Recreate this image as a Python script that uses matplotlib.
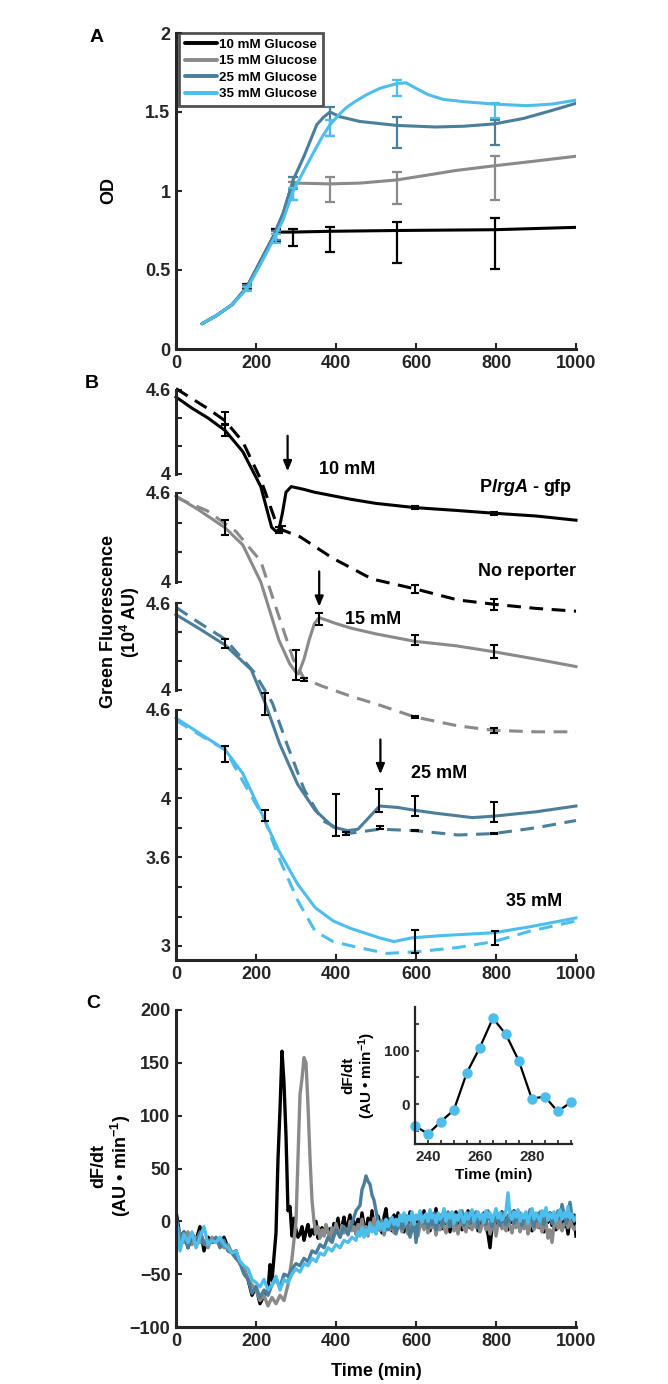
import matplotlib
matplotlib.use('Agg')
import matplotlib.pyplot as plt
import numpy as np
from matplotlib.ticker import FixedLocator

plt.rcParams['font.family'] = ['Liberation Sans', 'DejaVu Sans']
plt.rcParams['font.weight'] = 'bold'
plt.rcParams['mathtext.fontset'] = 'custom'
plt.rcParams['mathtext.rm'] = 'Liberation Sans:bold'
plt.rcParams['mathtext.it'] = 'Liberation Sans:italic:bold'
plt.rcParams['mathtext.bf'] = 'Liberation Sans:bold'

# ---------------- colours ----------------
C10, C15, C25, C35 = '#000000', '#8a8a8a', '#4a7e9b', '#4dbdec'
SPINE = '#262626'

# ---------------- Panel A data (OD) ----------------
labels_A = ['10 mM Glucose', '15 mM Glucose', '25 mM Glucose', '35 mM Glucose']
t_A10 = [65, 100, 140, 177, 210, 243, 255, 293, 385, 552, 797, 1000]
od_A10 = [0.16, 0.21, 0.28, 0.39, 0.55, 0.71, 0.74, 0.74, 0.745, 0.75, 0.755, 0.77]
t_A15 = [65, 100, 140, 177, 210, 243, 268, 285, 300, 385, 460, 552, 627, 700, 797, 900, 1000]
od_A15 = [0.16, 0.21, 0.28, 0.39, 0.55, 0.71, 0.86, 1.0, 1.05, 1.045, 1.05, 1.07, 1.10, 1.13, 1.16, 1.19, 1.22]
t_A25 = [65, 100, 140, 177, 210, 243, 268, 293, 320, 352, 370, 385, 410, 460, 552, 650, 720, 797, 870, 940, 1000]
od_A25 = [0.16, 0.21, 0.28, 0.39, 0.55, 0.71, 0.86, 1.07, 1.22, 1.42, 1.47, 1.50, 1.47, 1.44, 1.415, 1.405, 1.41, 1.425, 1.46, 1.51, 1.555]
t_A35 = [65, 100, 140, 177, 210, 243, 268, 293, 320, 343, 365, 385, 410, 427, 450, 477, 510, 552, 575, 600, 630, 668, 720, 797, 877, 940, 1000]
od_A35 = [0.16, 0.21, 0.28, 0.38, 0.53, 0.69, 0.82, 1.0, 1.13, 1.24, 1.34, 1.42, 1.49, 1.53, 1.57, 1.61, 1.65, 1.68, 1.685, 1.65, 1.61, 1.58, 1.565, 1.55, 1.54, 1.55, 1.575]

terr_A = [177, 250, 293, 385, 552, 797]
mA10 = [0.395, 0.72, 0.707, 0.696, 0.676, 0.668]
eA10 = [0.015, 0.037, 0.053, 0.079, 0.13, 0.16]
mA15 = [0.39, 0.72, 1.0, 1.008, 1.02, 1.08]
eA15 = [0.015, 0.03, 0.06, 0.08, 0.10, 0.14]
mA25 = [0.39, 0.72, 1.05, 1.44, 1.37, 1.37]
eA25 = [0.015, 0.03, 0.04, 0.09, 0.10, 0.08]
mA35 = [0.38, 0.70, 0.98, 1.40, 1.65, 1.51]
eA35 = [0.015, 0.03, 0.04, 0.05, 0.05, 0.05]

# ---------------- Panel B data (green fluorescence, 10^4 AU) ----------------
t_b10 = [0, 40, 80, 123, 167, 212, 239, 250, 257, 266, 275, 288, 320, 346, 400, 436, 500, 597, 700, 794, 900, 1000]
f_b10 = [4.55, 4.47, 4.40, 4.31, 4.16, 3.91, 3.62, 3.59, 3.60, 3.72, 3.87, 3.91, 3.89, 3.87, 3.84, 3.82, 3.79, 3.76, 3.74, 3.72, 3.70, 3.67]
t_b10n = [0, 78, 123, 167, 212, 248, 266, 311, 391, 490, 597, 705, 794, 900, 1000]
f_b10n = [4.61, 4.47, 4.38, 4.23, 3.96, 3.67, 3.60, 3.55, 3.40, 3.25, 3.18, 3.10, 3.07, 3.04, 3.02]
te_b10 = [123, 257, 597, 794]
me_b10 = [4.31, 3.60, 3.76, 3.72]
ee_b10 = [0.04, 0.02, 0.01, 0.01]
te_b10n = [123, 266, 597, 794]
me_b10n = [4.40, 3.61, 3.18, 3.07]
ee_b10n = [0.04, 0.02, 0.03, 0.04]

t_b15 = [0, 60, 123, 167, 212, 257, 284, 300, 306, 320, 333, 346, 358, 400, 436, 500, 597, 700, 794, 900, 1000]
f_b15 = [4.58, 4.48, 4.365, 4.25, 4.0, 3.61, 3.45, 3.39, 3.38, 3.48, 3.61, 3.72, 3.76, 3.72, 3.69, 3.65, 3.60, 3.57, 3.53, 3.48, 3.43]
t_b15n = [0, 78, 150, 212, 257, 293, 320, 363, 437, 509, 597, 705, 794, 900, 1000]
f_b15n = [4.57, 4.48, 4.34, 4.14, 3.77, 3.48, 3.35, 3.30, 3.23, 3.17, 3.09, 3.03, 3.00, 2.99, 2.99]
te_b15 = [123, 300, 358, 597, 794]
me_b15 = [4.37, 3.44, 3.75, 3.61, 3.53]
ee_b15 = [0.05, 0.10, 0.04, 0.035, 0.045]
te_b15n = [320, 597, 794]
me_b15n = [3.34, 3.09, 3.00]
ee_b15n = [0.01, 0.01, 0.015]

t_b25 = [0, 60, 123, 188, 223, 259, 304, 348, 393, 429, 455, 482, 509, 554, 598, 650, 741, 795, 900, 1000]
f_b25 = [4.52, 4.42, 4.31, 4.14, 3.91, 3.63, 3.35, 3.17, 3.055, 3.03, 3.04, 3.12, 3.20, 3.19, 3.17, 3.15, 3.12, 3.13, 3.16, 3.20]
t_b25n = [0, 60, 123, 196, 241, 277, 321, 366, 429, 509, 598, 705, 795, 900, 1000]
f_b25n = [4.57, 4.46, 4.35, 4.12, 3.91, 3.63, 3.31, 3.10, 3.01, 3.04, 3.03, 3.00, 3.01, 3.05, 3.10]
te_b25 = [123, 222, 400, 508, 598, 795]
me_b25 = [4.32, 3.905, 3.135, 3.24, 3.20, 3.16]
ee_b25 = [0.03, 0.075, 0.145, 0.08, 0.07, 0.07]
te_b25n = [425, 511, 598, 795]
me_b25n = [3.01, 3.05, 3.03, 3.01]
ee_b25n = [0.01, 0.01, 0.005, 0.005]

t_b35 = [0, 60, 123, 167, 219, 257, 304, 348, 393, 436, 509, 545, 589, 661, 795, 884, 1000]
f_b35 = [4.545, 4.44, 4.33, 4.17, 3.87, 3.645, 3.42, 3.26, 3.17, 3.12, 3.055, 3.03, 3.055, 3.07, 3.09, 3.13, 3.19]
t_b35n = [0, 60, 123, 221, 257, 304, 348, 393, 455, 527, 598, 705, 795, 884, 1000]
f_b35n = [4.53, 4.43, 4.33, 3.86, 3.60, 3.31, 3.10, 3.03, 2.99, 2.95, 2.96, 2.99, 3.03, 3.10, 3.17]
te_b35 = [123, 222, 598, 797]
me_b35 = [4.30, 3.885, 3.03, 3.055]
ee_b35 = [0.055, 0.035, 0.08, 0.045]

# ---------------- Panel C data (dF/dt, AU/min) ----------------
# 10 mM: 0-230 every 10 min, 235-1000 every 5 min
t_c10 = list(range(0, 231, 10)) + list(range(235, 1001, 5))
v_c10 = [10, -15, -10, -25, -12, -18, -5, -28, -15, -20, -18, -22, -15, -25, -30, -28, -40, -45, -55, -70, -62, -78, -70, -65,
         -41, -56, -33, -11, 59, 106, 161, 131, 81, 10, 14, -14, 3,
         -8, -15, -12, -5, -18, -10, -3, -14, -8, -12, 0, -16, -10, -6, -13, -4, -11, -7, -15, -2,
         -9, 3, -12, -5, 4, -10, -2, 6, -8, 0, -12, 2, -6, 8, -4, -10, 3, -7, 10, -3,
         -8, 5, -2, -11, 4, 12, -5, 2, -9, 6, -3, 8, -6, 0, -10, 5, -4, 9, -2, -8,
         4, -6, 7, -3, 10, -5, 2, -9, 6, -1, 12, -4, 3, -7, 8, -2, 5, -10, 4, -3,
         9, -4, 2, -8, 6, -1, 10, -6, 3, -3, 7, -9, 4, -2, 8, -5, -12, -25, -6, 3,
         -4, 7, -2, 9, -6, 3, -8, 5, -1, 10, -4, 2, -7, 6, -3, 8, -5, 1, -9, 4,
         -2, 7, -6, 3, -10, 5, -1, 8, -4, 2, -8, 6, -3, 9, -5, 1, -12, 4, -2, 6,
         -14]

# 15 mM: 0-290 every 10 min, 300-1000 every 5 min
t_c15 = list(range(0, 291, 10)) + list(range(300, 1001, 5))
v_c15 = [0, -12, -20, -10, -22, -15, -20, -18, -25, -15, -20, -18, -25, -22, -30, -35, -38, -45, -55, -60, -65, -75, -70, -80,
         -72, -78, -70, -75, -60, -35,
         0, 60, 120, 135, 155, 150, 110, 60, 20, 0,
         -12, -5, -16, -8, -14, -3, -10, -18, -6, -12, -2, -9, -15, -4, -11, -7, -13, 0, -9, -5,
         -12, -3, -8, 2, -10, -5, -14, -1, -7, 3, -11, -4, -9, 1, -13, -6, 0, -8, -3, -11,
         -2, -7, 4, -10, -4, 1, -12, -6, 2, -9, -3, -14, -5, 0, -8, 3, -11, -2, -6, 1,
         -13, -4, -8, 2, -6, -11, 0, -5, 4, -9, -2, -12, -3, 1, -7, -10, 0, -4, -8, 2,
         -6, -1, -10, -4, 3, -8, -2, -12, -5, 0, -14, -3, 1, -7, -2, -9, 3, -5, -11, 0,
         -6, 2, -10, -3, -7, 1, -12, -4, 0, -8, -2, -6, 3, -10, -5, -1, -16, -8, -20, -4,
         -1, -7, 2, -9, -3, 0, -6, 1, -4, -8,
         -5]

# 25 mM: 0-450 every 10 min, 460-1000 every 5 min
t_c25 = list(range(0, 451, 10)) + list(range(460, 1001, 5))
v_c25 = [5, -20, -10, -25, -15, -20, -10, -22, -18, -20, -15, -25, -18, -28, -30, -35, -40, -50, -55, -68, -62, -72, -65, -70,
         -60, -55, -62, -50, -52, -45, -40, -42, -35, -38, -28, -30, -22, -25, -15, -20, -8, -15, -5, -12, -2, 10,
         15, 30, 35, 43, 38, 35, 25, 20, 10, 0, -5, -2,
         -10, -3, -8, 2, -6, 0, -12, -4, 3, -7, -1, 5, -5, -15, -8, 2, -20, -3, 0, 6,
         -2, 5, -6, 3, -3, 8, -8, 1, 6, -4, 4, -1, 9, -5, 2, 7, -3, 5, 0, 10,
         -4, 3, 8, -2, 5, 0, 9, -6, 4, 1, 7, -3, 10, 2, -5, 6, 0, 4, -4, 8,
         2, -3, 6, 0, 9, -2, 5, 1, 8, -4, 3, 7, -1, 11, 2, -5, 6, 0, 9, 3,
         -3, 5, 1, 8, -2, 6, 0, 10, 3, 16, 7, -2, 5, 18, 4, 0,
         5]

# 35 mM: 0-440 every 10 min, 450-1000 every 5 min
t_c35 = list(range(0, 441, 10)) + list(range(450, 1001, 5))
v_c35 = [5, -28, -12, -20, -10, -25, -15, -5, -22, -18, -20, -15, -22, -25, -30, -28, -38, -42, -45, -55, -58, -62, -55, -65,
         -60, -52, -65, -55, -58, -50, -45, -48, -40, -42, -35, -38, -30, -32, -25, -28, -22, -25, -18, -20, -15,
         -18, -10, -14, -6, -15, -8, -12, -3, -10, -6, -12, 0, -7, -2, -9, 2, -5, -1, 4, -3,
         2, -4, 6, 0, 8, -2, 5, 1, 9, -3, 6, 2, 10, -1, 4, 7, 0, 11, 3, 6,
         -1, 8, 2, 5, 12, 0, 7, 3, 9, -2, 6, 1, 10, 4, -1, 8, 2, 6, 11, 0,
         5, 9, 2, 7, -1, 10, 4, 8, 0, 6, 12, 3, 8, 1, 5, 10, 27, 5, 2, 9,
         4, 11, 0, 7, 3, 9, -2, 6, 12, 2, 8, 4, 0, 10, 5, 13, 1, 7, 3, 9,
         0, 6, 11, 2, 8, 4, 14, 3, 7, 1,
         3]

# inset: 10 mM peak at 5-min resolution
t_in = [235, 240, 245, 250, 255, 260, 265, 270, 275, 280, 285, 290, 295]
v_in = [-41, -56, -33, -11, 59, 106, 161, 131, 81, 10, 14, -14, 3]

# ---------------- figure ----------------
W, H = 668, 1384
fig = plt.figure(figsize=(W / 100, H / 100), dpi=100)


def box(x0, y0, x1, y1):
    """pixel box (top-left origin) -> figure fraction rect"""
    return [x0 / W, 1 - y1 / H, (x1 - x0) / W, (y1 - y0) / H]


def fp(x, y):
    return x / W, 1 - y / H


def style(ax, bottom=True):
    for s in ['top', 'right']:
        ax.spines[s].set_visible(False)
    for s in ['left', 'bottom']:
        ax.spines[s].set_linewidth(2.2)
        ax.spines[s].set_color(SPINE)
    if not bottom:
        ax.spines['bottom'].set_visible(False)
    ax.tick_params(direction='in', length=4, width=1.5, color=SPINE,
                   labelsize=13, labelcolor=SPINE, pad=4)
    ax.patch.set_alpha(0)


# ---------- Panel A ----------
axA = fig.add_axes(box(176, 33, 576, 349))
style(axA)
axA.set_xlim(0, 1000)
axA.set_ylim(0, 2)
axA.set_xticks([0, 200, 400, 600, 800, 1000])
axA.set_yticks([0, 0.5, 1, 1.5, 2])
axA.set_yticklabels(['0', '0.5', '1', '1.5', '2'])
seriesA = [(t_A10, od_A10, mA10, eA10, C10), (t_A15, od_A15, mA15, eA15, C15),
           (t_A25, od_A25, mA25, eA25, C25), (t_A35, od_A35, mA35, eA35, C35)]
for (tt, od, mm, ee, c), lab in zip(seriesA, labels_A):
    axA.plot(tt, od, color=c, lw=2.2, label=lab, solid_capstyle='round')
    axA.errorbar(terr_A, mm, yerr=ee, fmt='none', ecolor=c, elinewidth=1.6, capsize=3.5, capthick=1.6)
leg = axA.legend(loc='upper left', bbox_to_anchor=(0.008, 1.0), frameon=True, fancybox=False,
                 fontsize=9.6, handlelength=2.4, handletextpad=0.2, borderpad=0.4, labelspacing=0.32,
                 borderaxespad=0.0)
leg.get_frame().set_edgecolor(SPINE)
leg.get_frame().set_linewidth(2.0)
for line in leg.get_lines():
    line.set_linewidth(2.8)
axA.set_ylabel('OD', fontsize=13, fontweight='bold', labelpad=20)
fig.text(*fp(97, 37), 'A', fontsize=14, fontweight='bold', ha='center', va='center')

# ---------- Panel B (stacked strips) ----------
rectB = box(176, 380, 576, 960)
B_TOP, B_BOT = 380, 960


def strip(y_hi_px, v_hi, y_lo_px, v_lo):
    ax = fig.add_axes(rectB)
    u = (v_hi - v_lo) / (y_lo_px - y_hi_px)
    ax.set_ylim(v_lo - (B_BOT - y_lo_px) * u, v_hi + (y_hi_px - B_TOP) * u)
    ax.set_xlim(0, 1000)
    return ax


ax1 = strip(390, 4.6, 474, 4.0)
ax2 = strip(493, 4.6, 582, 4.0)
ax3 = strip(603, 4.6, 690, 4.0)
ax4 = strip(710, 4.6, 946, 3.0)
for ax in [ax1, ax2, ax3]:
    style(ax, bottom=False)
    ax.spines['left'].set_bounds(4.0, 4.6)
    ax.set_yticks([4.0, 4.2, 4.4, 4.6])
    ax.set_yticklabels(['4', '', '', '4.6'])
    ax.set_xticks([])
style(ax4)
ax4.spines['left'].set_bounds(ax4.get_ylim()[0], 4.6)
ax4.set_yticks([3.0, 3.2, 3.4, 3.6, 3.8, 4.0, 4.2, 4.4, 4.6])
ax4.set_yticklabels(['3', '', '', '3.6', '', '4', '', '', '4.6'])
ax4.set_xticks([0, 200, 400, 600, 800, 1000])

stripsB = [
    (ax1, C10, t_b10, f_b10, t_b10n, f_b10n, [(te_b10, me_b10, ee_b10), (te_b10n, me_b10n, ee_b10n)]),
    (ax2, C15, t_b15, f_b15, t_b15n, f_b15n, [(te_b15, me_b15, ee_b15), (te_b15n, me_b15n, ee_b15n)]),
    (ax3, C25, t_b25, f_b25, t_b25n, f_b25n, [(te_b25, me_b25, ee_b25), (te_b25n, me_b25n, ee_b25n)]),
    (ax4, C35, t_b35, f_b35, t_b35n, f_b35n, [(te_b35, me_b35, ee_b35)]),
]
for ax, c, ts, fs, tn, fn, errs in stripsB:
    ax.plot(tn, fn, color=c, lw=2.2, ls=(0, (4.5, 2.8)), clip_on=False)
    ax.plot(ts, fs, color=c, lw=2.2, clip_on=False)
    for te, me, ee in errs:
        ax.errorbar(te, me, yerr=ee, fmt='none', ecolor='black', elinewidth=1.5,
                    capsize=3, capthick=1.5, clip_on=False)

arrow_kw = dict(arrowstyle='-|>,head_length=0.6,head_width=0.25', color='black', lw=1.6)
ax1.annotate('', xy=(279, 4.0), xytext=(279, 4.293), arrowprops=arrow_kw, annotation_clip=False)
ax2.annotate('', xy=(358, 3.815), xytext=(358, 4.09), arrowprops=arrow_kw, annotation_clip=False)
ax3.annotate('', xy=(511, 3.40), xytext=(511, 3.678), arrowprops=arrow_kw, annotation_clip=False)

fig.text(*fp(347, 470), '10 mM', fontsize=13, ha='center', va='center')
fig.text(*fp(373, 619), '15 mM', fontsize=13, ha='center', va='center')
fig.text(*fp(439, 774), '25 mM', fontsize=13, ha='center', va='center')
fig.text(*fp(534, 901), '35 mM', fontsize=13, ha='center', va='center')
fig.text(*fp(572, 488), r'P$\it{lrgA}$ - gfp', fontsize=13, ha='right', va='center')
fig.text(*fp(576, 572), 'No reporter', fontsize=13, ha='right', va='center')
fig.text(*fp(121, 622), 'Green Fluorescence\n(10$^{4}$ AU)', fontsize=13, ha='center', va='center',
         rotation=90, multialignment='center', linespacing=1.1)
fig.text(*fp(92, 383), 'B', fontsize=14, fontweight='bold', ha='center', va='center')

# ---------- Panel C ----------
axC = fig.add_axes(box(176, 1010, 576, 1327))
style(axC)
axC.set_xlim(0, 1000)
axC.set_ylim(-100, 200)
axC.set_xticks([0, 200, 400, 600, 800, 1000])
axC.set_yticks([-100, -50, 0, 50, 100, 150, 200])
for tt, vv, c in [(t_c10, v_c10, C10), (t_c15, v_c15, C15), (t_c25, v_c25, C25), (t_c35, v_c35, C35)]:
    axC.plot(tt, vv, color=c, lw=2.4)
axC.set_xlabel('Time (min)', fontsize=13, fontweight='bold', labelpad=10)
fig.text(*fp(112, 1166), 'dF/dt\n(AU • min$^{-1}$)', fontsize=13, ha='center', va='center',
         rotation=90, multialignment='center', linespacing=1.1)
fig.text(*fp(93, 1003), 'C', fontsize=14, fontweight='bold', ha='center', va='center')

axI = fig.add_axes(box(415, 1007, 572, 1144))
style(axI)
axI.tick_params(labelsize=11, length=3, width=1.2, pad=4)
for s in ['left', 'bottom']:
    axI.spines[s].set_linewidth(1.6)
axI.set_xlim(235, 295.5)
axI.set_ylim(-75, 182)
axI.xaxis.set_major_locator(FixedLocator([240, 260, 280]))
axI.xaxis.set_minor_locator(FixedLocator(list(range(235, 300, 5))))
axI.yaxis.set_major_locator(FixedLocator([0, 100]))
axI.yaxis.set_minor_locator(FixedLocator([-50, 50, 150]))
axI.tick_params(which='minor', direction='in', length=3, width=1.2, color=SPINE)
axI.plot(t_in, v_in, color='black', lw=1.6, marker='o', ms=6.5, mfc=C35, mec=C35, clip_on=False)
axI.set_xlabel('Time (min)', fontsize=11, fontweight='bold', labelpad=3)
axI.set_ylabel('dF/dt\n(AU • min$^{-1}$)', fontsize=11, fontweight='bold', labelpad=4, linespacing=1.1)

fig.savefig('out.png', dpi=100)
